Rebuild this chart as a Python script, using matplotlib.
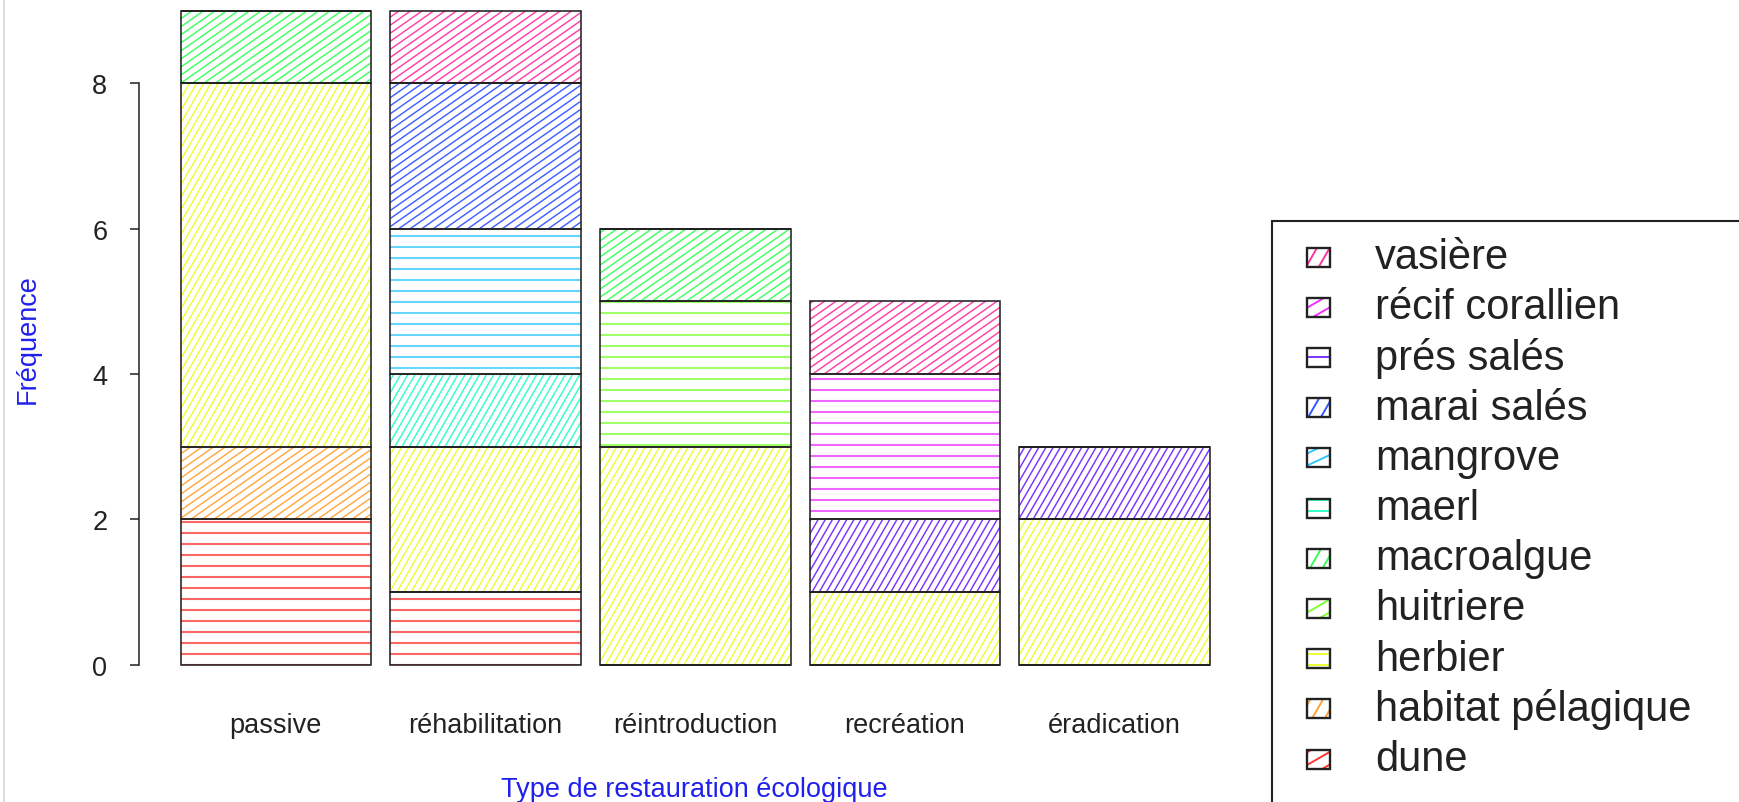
import numpy as np
import matplotlib
matplotlib.use('Agg')
import matplotlib.pyplot as plt
from matplotlib.collections import LineCollection
from matplotlib.patches import Rectangle
from matplotlib.lines import Line2D
from matplotlib.transforms import IdentityTransform

plt.rcParams['font.family'] = ['Liberation Sans', 'DejaVu Sans']

# ---------------- data ----------------
categories = ['passive', 'réhabilitation', 'réintroduction', 'recréation', 'éradication']
habitats = ['dune', 'habitat pélagique', 'herbier', 'huitriere', 'macroalgue', 'maerl',
            'mangrove', 'marai salés', 'prés salés', 'récif corallien', 'vasière']
dune              = [2, 1, 0, 0, 0]
habitat_pelagique = [1, 0, 0, 0, 0]
herbier           = [5, 2, 3, 1, 2]
huitriere         = [0, 0, 2, 0, 0]
macroalgue        = [1, 0, 1, 0, 0]
maerl             = [0, 1, 0, 0, 0]
mangrove          = [0, 2, 0, 0, 0]
marai_sales       = [0, 2, 0, 0, 0]
pres_sales        = [0, 0, 0, 1, 1]
recif_corallien   = [0, 0, 0, 2, 0]
vasiere           = [0, 1, 0, 1, 0]
counts = [dune, habitat_pelagique, herbier, huitriere, macroalgue, maerl,
          mangrove, marai_sales, pres_sales, recif_corallien, vasiere]
colors = ['#FF0000', '#FF8B00', '#E8FF00', '#5DFF00', '#00FF2E', '#00FFB9',
          '#00B9FF', '#002EFF', '#5D00FF', '#E800FF', '#FF008B']
bar_angles = [0, 35, 60, 0, 35, 60, 0, 35, 60, 0, 35]
legend_angles = [30, 60, 0, 30, 60, 0, 25, 60, 0, 30, 60]
yticks = [0, 2, 4, 6, 8]

# ---------------- figure ----------------
W, H = 1739, 803
DPI = 100
fig = plt.figure(figsize=(W / DPI, H / DPI), dpi=DPI)
fig.patch.set_facecolor('white')

ax_l, ax_r = 138.6, 1270.9          # pixel left/right of plot region
ax_t, ax_b = -14.5, 691.7           # pixel top/bottom (from top)
ax = fig.add_axes([ax_l / W, (H - ax_b) / H, (ax_r - ax_l) / W, (ax_b - ax_t) / H])
ax.set_facecolor('none')
ax.set_xlim(-0.12, 5.82)
ax.set_ylim(-0.36, 9.36)

spacing_for = {0: 11.0, 35: 6.6, 60: 6.2}
lw_for = {0: 1.5, 35: 1.05, 60: 1.05}
alpha_for = {0: 0.6, 35: 0.75, 60: 0.8}


def add_hatch(container, patch, angle, spacing, color, lw, alpha, zorder):
    verts = patch.get_transform().transform(patch.get_path().vertices)
    th = np.deg2rad(angle)
    u = np.array([np.cos(th), np.sin(th)])
    n = np.array([-np.sin(th), np.cos(th)])
    pn = verts @ n
    pu = verts @ u
    c0 = np.floor(pn.min() / spacing) * spacing + spacing / 2
    cs = np.arange(c0, pn.max() + spacing, spacing)
    t0, t1 = pu.min() - 20, pu.max() + 20
    segs = [[c * n + t0 * u, c * n + t1 * u] for c in cs]
    lc = LineCollection(segs, colors=color, linewidths=lw, alpha=alpha,
                        transform=IdentityTransform(), zorder=zorder)
    lc.set_clip_path(patch.get_path(), patch.get_transform())
    if hasattr(container, 'add_collection'):
        container.add_collection(lc, autolim=False)
    else:
        container.add_artist(lc)


x = 0.6 + 1.1 * np.arange(len(categories))
bottom = np.zeros(len(categories))
for k, (vals, col) in enumerate(zip(counts, colors)):
    vals = np.array(vals, dtype=float)
    bars = ax.bar(x, vals, width=1.0, bottom=bottom, facecolor='none',
                  edgecolor='#222222', linewidth=1.15, zorder=3)
    a = bar_angles[k]
    for b, v in zip(bars, vals):
        if v > 0:
            add_hatch(ax, b, a, spacing_for[a], col, lw_for[a], alpha_for[a], 2)
    bottom += vals

# axes styling (R-like)
for s in ['top', 'right', 'bottom']:
    ax.spines[s].set_visible(False)
ax.spines['left'].set_bounds(0, 8)
ax.spines['left'].set_linewidth(1.1)
ax.spines['left'].set_color('#222222')
ax.set_yticks(yticks)
ax.set_yticklabels([str(t) for t in yticks])
ax.tick_params(axis='y', length=6.5, width=1.1, color='#222222', pad=16, labelsize=19.5,
               labelcolor='#222222')
ax.set_xticks(x)
ax.set_xticklabels(categories)
ax.tick_params(axis='x', length=0, pad=15, labelsize=19.5, labelcolor='#222222')

ax.set_xlabel('Type de restauration écologique', fontsize=19.5, color='#2020EE')
ax.xaxis.set_label_coords((694 - ax_l) / (ax_r - ax_l), (ax_b - 790) / (ax_b - ax_t))
ax.xaxis.label.set_va('center')
ax.set_ylabel('Fréquence', fontsize=19.5, color='#2020EE')
ax.yaxis.set_label_coords((28 - ax_l) / (ax_r - ax_l), 0.5)
ax.yaxis.label.set_va('center')

# faint screenshot border on the left
fig.add_artist(Line2D([4, 4], [0, H], transform=IdentityTransform(), color='#dddddd',
                      linewidth=1.5))

# ---------------- legend (R-style, drawn in pixel coordinates) ----------------
ident = IdentityTransform()
leg_left, leg_top = 1272, 222
frame = Rectangle((leg_left, H - 840), 520, 840 - leg_top, transform=ident,
                  facecolor='none', edgecolor='#222222', linewidth=1.5, clip_on=False)
fig.add_artist(frame)

box_w, box_h = 23, 19
box_x = 1307
text_x = 1375
first_y, step = 258, 50.2
for i, k in enumerate(range(len(habitats) - 1, -1, -1)):
    cy = first_y + step * i
    rect = Rectangle((box_x, H - cy - box_h / 2), box_w, box_h, transform=ident,
                     facecolor='white', edgecolor='none', zorder=3)
    fig.add_artist(rect)
    add_hatch(fig, rect, legend_angles[k], 11.0, colors[k], 1.4, 0.8, 4)
    fig.add_artist(Rectangle((box_x, H - cy - box_h / 2), box_w, box_h, transform=ident,
                             facecolor='none', edgecolor='#222222', linewidth=1.7, zorder=5))
    fig.text(text_x, H - cy, habitats[k], transform=ident, fontsize=30,
             color='#222222', va='center', ha='left')

fig.savefig('out.png', dpi=DPI)
